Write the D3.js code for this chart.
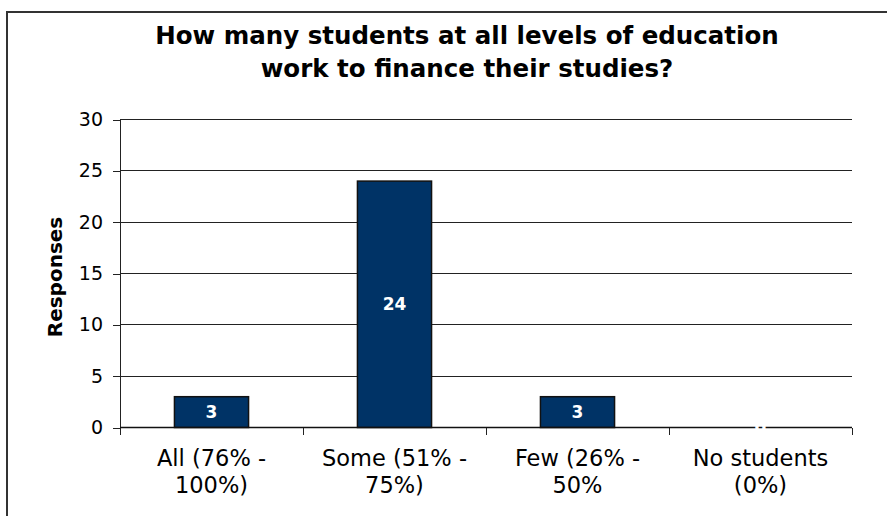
<!DOCTYPE html>
<html>
<head>
<meta charset="utf-8">
<script src="https://cdn.jsdelivr.net/npm/d3@7"></script>
<style>
  html, body { margin: 0; padding: 0; background: #fff; }
  svg { display: block; }
  text { font-family: "DejaVu Sans", Verdana, sans-serif; }
</style>
</head>
<body>
<svg id="chart" width="887" height="516"></svg>
<script>
// Survey answers: how many students work to finance their studies
const categories = ["All (76% - 100%)", "Some (51% - 75%)", "Few (26% - 50%", "No students (0%)"];
const categoryLines = [["All (76% -", "100%)"], ["Some (51% -", "75%)"], ["Few (26% -", "50%"], ["No students", "(0%)"]];
const responses = [3, 24, 3, 0];
const yTicks = [0, 5, 10, 15, 20, 25, 30];
const titleLines = ["How many students at all levels of education", "work to finance their studies?"];
const yAxisTitle = "Responses";

const svg = d3.select("#chart");
const W = 887, H = 516;
const plot = { left: 120, right: 852, top: 119.5, bottom: 427.5 };

// Outer chart frame (extends past the right and bottom edges)
svg.append("path")
  .attr("d", `M7,${H + 5} L7,12 L${W + 5},12`)
  .attr("fill", "none")
  .attr("stroke", "#333")
  .attr("stroke-width", 2);

// Title
const title = svg.append("text")
  .attr("x", 467)
  .attr("text-anchor", "middle")
  .attr("font-weight", "bold")
  .attr("font-size", 24.5)
  .attr("fill", "#000");
titleLines.forEach((t, i) => {
  title.append("tspan").attr("x", 467).attr("y", 44 + i * 32.5).text(t);
});

// Scales
const y = d3.scaleLinear().domain([0, 30]).range([plot.bottom, plot.top]);
const xSlots = d3.scaleBand().domain(categories).range([plot.left, plot.right]).padding(0);
const xBars = d3.scaleBand().domain(categories).range([plot.left, plot.right])
  .paddingInner(0.595).paddingOuter(0.2975);

// Horizontal gridlines
svg.append("g")
  .selectAll("line")
  .data(yTicks.filter(d => d > 0))
  .join("line")
  .attr("x1", plot.left).attr("x2", plot.right)
  .attr("y1", d => y(d)).attr("y2", d => y(d))
  .attr("stroke", "#222")
  .attr("stroke-width", 1)
  .attr("shape-rendering", "crispEdges");

// Y axis
const yAxis = svg.append("g")
  .attr("transform", `translate(${plot.left},0)`)
  .call(d3.axisLeft(y).tickValues(yTicks).tickSize(7).tickPadding(10).tickSizeOuter(0));
yAxis.select(".domain").remove();
yAxis.append("line")
  .attr("x1", 0).attr("x2", 0)
  .attr("y1", plot.top).attr("y2", plot.bottom + 7)
  .attr("stroke", "#222").attr("shape-rendering", "crispEdges");
yAxis.selectAll(".tick line").attr("stroke", "#222").attr("shape-rendering", "crispEdges");
yAxis.selectAll(".tick text")
  .attr("font-family", "'DejaVu Sans', Verdana, sans-serif")
  .attr("font-size", 19)
  .attr("fill", "#000");

// Y axis title
svg.append("text")
  .attr("transform", `translate(62, 277) rotate(-90)`)
  .attr("text-anchor", "middle")
  .attr("font-weight", "bold")
  .attr("font-size", 20)
  .attr("fill", "#000")
  .text(yAxisTitle);

// Bars
svg.append("g")
  .selectAll("rect")
  .data(responses)
  .join("rect")
  .attr("x", (d, i) => xBars(categories[i]))
  .attr("width", xBars.bandwidth())
  .attr("y", d => y(d))
  .attr("height", d => y(0) - y(d))
  .attr("fill", "#003366")
  .attr("stroke", "#111")
  .attr("stroke-width", 1.5);

// X axis line and slot ticks
const xAxisG = svg.append("g");
xAxisG.append("line")
  .attr("x1", plot.left).attr("x2", plot.right)
  .attr("y1", y(0)).attr("y2", y(0))
  .attr("stroke", "#111").attr("stroke-width", 1.5);
const bounds = categories.map(c => xSlots(c)).concat([plot.right]);
xAxisG.selectAll("line.tick")
  .data(bounds.slice(1))
  .join("line")
  .attr("class", "tick")
  .attr("x1", d => d).attr("x2", d => d)
  .attr("y1", y(0)).attr("y2", y(0) + 7)
  .attr("stroke", "#222").attr("shape-rendering", "crispEdges");

// Category labels
const catLabels = svg.append("g")
  .selectAll("text")
  .data(categories)
  .join("text")
  .attr("text-anchor", "middle")
  .attr("font-size", 22.5)
  .attr("fill", "#000");
catLabels.each(function (c, i) {
  const cx = xSlots(c) + xSlots.bandwidth() / 2;
  categoryLines[i].forEach((line, j) => {
    d3.select(this).append("tspan")
      .attr("x", cx)
      .attr("y", 466 + j * 27)
      .text(line);
  });
});

// Value labels centred inside each bar
svg.append("g")
  .selectAll("text")
  .data(responses)
  .join("text")
  .attr("x", (d, i) => xBars(categories[i]) + xBars.bandwidth() / 2)
  .attr("y", d => (y(d) + y(0)) / 2)
  .attr("dy", "0.36em")
  .attr("text-anchor", "middle")
  .attr("font-weight", "bold")
  .attr("font-size", 17)
  .attr("fill", "#fff")
  .text(d => d);
</script>
</body>
</html>
